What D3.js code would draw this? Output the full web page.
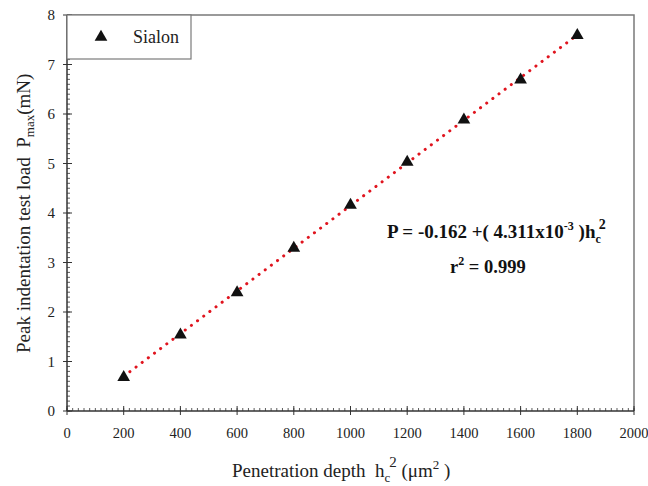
<!DOCTYPE html>
<html>
<head>
<meta charset="utf-8">
<script src="https://cdn.jsdelivr.net/npm/d3@7"></script>
<style>
  html, body { margin: 0; padding: 0; background: #fff; }
  svg { display: block; font-family: "Liberation Serif", "Times New Roman", serif; }
</style>
</head>
<body>
<svg id="chart" width="648" height="486"></svg>
<script>
// Measured data: squared penetration depth vs peak indentation load
const depthSq = [200, 400, 600, 800, 1000, 1200, 1400, 1600, 1800];
const peakLoad = [0.70, 1.56, 2.41, 3.31, 4.18, 5.05, 5.90, 6.71, 7.61];
const seriesName = "Sialon";

// Linear fit P = a + b * hc^2
const fitIntercept = -0.162;
const fitSlope = 4.311e-3;
const fitRange = [200, 1800];

const xTicks = [0, 200, 400, 600, 800, 1000, 1200, 1400, 1600, 1800, 2000];
const yTicks = [0, 1, 2, 3, 4, 5, 6, 7, 8];

const svg = d3.select("#chart");
const margin = { left: 67, right: 14, top: 15, bottom: 75 };
const W = 648, H = 486;

const x = d3.scaleLinear().domain([0, 2000]).range([margin.left, W - margin.right]);
const y = d3.scaleLinear().domain([0, 8]).range([H - margin.bottom, margin.top]);

const frameColor = "#7a7a7a";
const axisColor = "#333";

// top and right frame
svg.append("path")
  .attr("d", `M${x(0)},${y(8)}H${x(2000)}V${y(0)}`)
  .attr("fill", "none").attr("stroke", frameColor).attr("stroke-width", 1.5);

// minor ticks (inside)
const xMinor = d3.range(0, 2001, 20);
const yMinor = d3.range(0, 8.001, 0.1);
svg.append("g").selectAll("line").data(xMinor).join("line")
  .attr("x1", d => x(d)).attr("x2", d => x(d))
  .attr("y1", y(0)).attr("y2", y(0) - 3)
  .attr("stroke", axisColor).attr("stroke-width", 0.8);
svg.append("g").selectAll("line").data(yMinor).join("line")
  .attr("y1", d => y(d)).attr("y2", d => y(d))
  .attr("x1", x(0)).attr("x2", x(0) + 3)
  .attr("stroke", axisColor).attr("stroke-width", 0.8);

// major ticks crossing the axes
svg.append("g").selectAll("line").data(xTicks).join("line")
  .attr("x1", d => x(d)).attr("x2", d => x(d))
  .attr("y1", y(0) - 5).attr("y2", y(0) + 4)
  .attr("stroke", axisColor).attr("stroke-width", 1);
svg.append("g").selectAll("line").data(yTicks).join("line")
  .attr("y1", d => y(d)).attr("y2", d => y(d))
  .attr("x1", x(0) - 4).attr("x2", x(0) + 5)
  .attr("stroke", axisColor).attr("stroke-width", 1);

// axis lines
svg.append("line").attr("x1", x(0)).attr("x2", x(2000)).attr("y1", y(0)).attr("y2", y(0))
  .attr("stroke", axisColor).attr("stroke-width", 1.5);
svg.append("line").attr("x1", x(0)).attr("x2", x(0)).attr("y1", y(0)).attr("y2", y(8))
  .attr("stroke", axisColor).attr("stroke-width", 1.5);

// tick labels
svg.append("g").selectAll("text").data(xTicks).join("text")
  .attr("x", d => x(d)).attr("y", y(0) + 27)
  .attr("text-anchor", "middle").attr("font-size", 14.5).attr("fill", "#222")
  .text(d => d);
svg.append("g").selectAll("text").data(yTicks).join("text")
  .attr("x", x(0) - 12).attr("y", d => y(d) + 5)
  .attr("text-anchor", "end").attr("font-size", 15).attr("fill", "#222")
  .text(d => d);

// fitted line (red dotted)
svg.append("line")
  .attr("x1", x(fitRange[0])).attr("y1", y(fitIntercept + fitSlope * fitRange[0]))
  .attr("x2", x(fitRange[1])).attr("y2", y(fitIntercept + fitSlope * fitRange[1]))
  .attr("stroke", "#e0141e").attr("stroke-width", 3)
  .attr("stroke-linecap", "round").attr("stroke-dasharray", "0.1 7.6");

// data markers
const tri = d3.symbol().type(d3.symbolTriangle).size(70);
svg.append("g").selectAll("path").data(depthSq.map((d, i) => [d, peakLoad[i]])).join("path")
  .attr("d", tri)
  .attr("transform", d => `translate(${x(d[0])},${y(d[1]) + 1})`)
  .attr("fill", "#111");

// legend
const lg = svg.append("g");
lg.append("rect").attr("x", x(0)).attr("y", y(8)).attr("width", 124).attr("height", 44)
  .attr("fill", "#fff").attr("stroke", frameColor).attr("stroke-width", 1.2);
lg.append("path").attr("d", tri).attr("transform", `translate(${x(0) + 34},${y(8) + 22})`).attr("fill", "#111");
lg.append("text").attr("x", x(0) + 66).attr("y", y(8) + 28).attr("font-size", 18).attr("fill", "#222")
  .text(seriesName);

// fit equation
const eq = svg.append("text").attr("x", 387).attr("y", 238)
  .attr("font-size", 19).attr("font-weight", "bold").attr("fill", "#111");
eq.append("tspan").text("P = -0.162 +( 4.311x10");
eq.append("tspan").attr("font-size", 12).attr("dy", -8).text("-3");
eq.append("tspan").attr("dy", 8).text(" )h");
eq.append("tspan").attr("font-size", 12).attr("dy", 5).text("c");
eq.append("tspan").attr("font-size", 14).attr("dy", -14).attr("dx", -2).text("2");

const r2 = svg.append("text").attr("x", 450).attr("y", 273)
  .attr("font-size", 18.5).attr("font-weight", "bold").attr("fill", "#111");
r2.append("tspan").text("r");
r2.append("tspan").attr("font-size", 12).attr("dy", -8).text("2");
r2.append("tspan").attr("dy", 8).text(" = 0.999");

// x axis title
const xt = svg.append("text").attr("x", 232).attr("y", 477).attr("font-size", 19).attr("fill", "#222");
xt.append("tspan").text("Penetration depth\u00a0\u00a0h");
xt.append("tspan").attr("font-size", 13).attr("dy", 5).text("c");
xt.append("tspan").attr("font-size", 15).attr("dy", -15).attr("dx", -1).text("2");
xt.append("tspan").attr("dy", 10).text(" (\u03bcm");
xt.append("tspan").attr("font-size", 13).attr("dy", -8).text("2");
xt.append("tspan").attr("dy", 8).text(" )");

// y axis title
const yt = svg.append("text").attr("transform", "translate(30,353) rotate(-90)")
  .attr("font-size", 19).attr("fill", "#222");
yt.append("tspan").text("Peak indentation test load\u00a0\u00a0P");
yt.append("tspan").attr("font-size", 13).attr("dy", 4).text("max");
yt.append("tspan").attr("dy", -4).text("(mN)");
</script>
</body>
</html>
